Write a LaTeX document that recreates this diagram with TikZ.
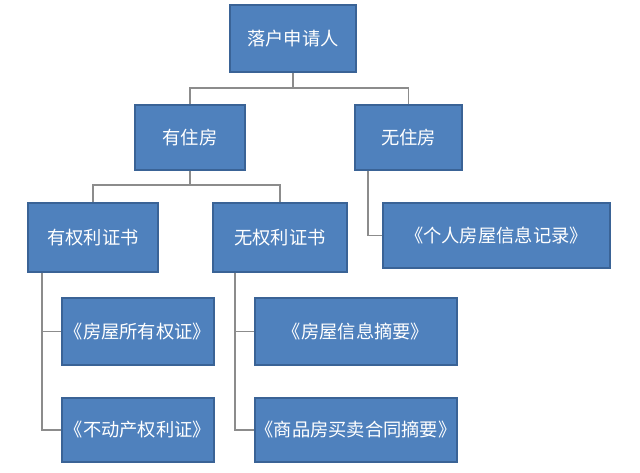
\documentclass[tikz,border=0pt]{standalone}
\usepackage{fontspec}
\setmainfont{Noto Sans CJK SC}
\usepackage{tikz}
\definecolor{boxblue}{HTML}{4F81BD}
\definecolor{boxedge}{HTML}{3A6396}
\definecolor{linkgray}{HTML}{8C8C8C}
\tikzset{
  box/.style={draw=boxedge,fill=boxblue,text=white,line width=0.8pt,inner sep=0pt,font=\fontsize{13}{15}\selectfont},
  link/.style={draw=linkgray,line width=1pt}
}
\begin{document}
\begin{tikzpicture}[x=0.025cm,y=-0.025cm]
        \useasboundingbox (0,0) rectangle (640,473);
        % boxes
        \node[box,minimum width=126*0.025cm,minimum height=67*0.025cm] (root) at (293,38.5) {落户申请人};
        \node[box,minimum width=110*0.025cm,minimum height=65*0.025cm] (has) at (190,137.5) {有住房};
        \node[box,minimum width=107*0.025cm,minimum height=65*0.025cm] (none) at (408.5,137.5) {无住房};
        \node[box,minimum width=130*0.025cm,minimum height=69*0.025cm] (cert) at (93,237.5) {有权利证书};
        \node[box,minimum width=134*0.025cm,minimum height=69*0.025cm] (nocert) at (280,237.5) {无权利证书};
        \node[box,minimum width=227*0.025cm,minimum height=65*0.025cm] (record) at (496.5,235.5) {《个人房屋信息记录》};
        \node[box,minimum width=152*0.025cm,minimum height=67*0.025cm] (own) at (138,331.5) {《房屋所有权证》};
        \node[box,minimum width=152*0.025cm,minimum height=64*0.025cm] (estate) at (138,430) {《不动产权利证》};
        \node[box,minimum width=202*0.025cm,minimum height=67*0.025cm] (info) at (356,331.5) {《房屋信息摘要》};
        \node[box,minimum width=202*0.025cm,minimum height=64*0.025cm] (contract) at (356,430) {《商品房买卖合同摘要》};
        % connectors
        \coordinate (j1) at (293,88);
        \coordinate (j2) at (190,185);
        \draw[link] (root.south) -- (j1) -| (has.north);
        \draw[link] (j1) -| (none.north);
        \draw[link] (has.south) -- (j2) -| (cert.north);
        \draw[link] (j2) -| (nocert.north);
        \draw[link] (none.south -| 368,0) |- (record.west);
        \draw[link] (cert.south -| 42,0) |- (own.west);
        \draw[link] (cert.south -| 42,0) |- (estate.west);
        \draw[link] (nocert.south -| 235,0) |- (info.west);
        \draw[link] (nocert.south -| 235,0) |- (contract.west);
\end{tikzpicture}
\end{document}
